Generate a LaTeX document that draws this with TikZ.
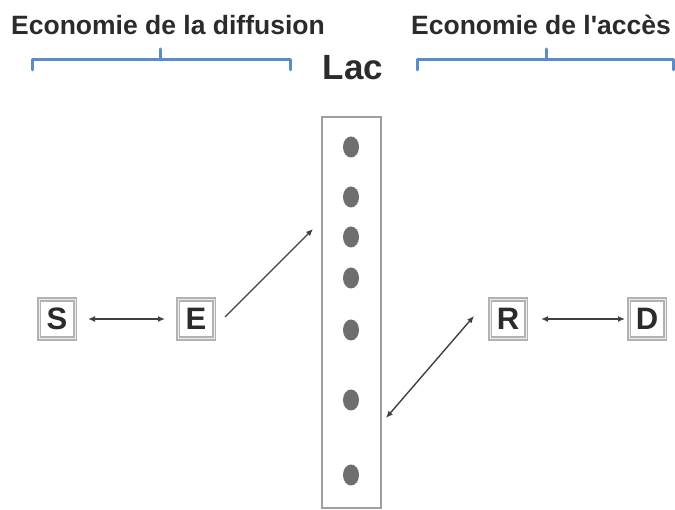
\documentclass[tikz,border=0pt]{standalone}
\usepackage{fontspec}
\setmainfont{Liberation Sans}
\usetikzlibrary{arrows.meta}
\definecolor{txt}{HTML}{2B2B2B}
\definecolor{brace}{HTML}{5B8BC9}
\definecolor{dotc}{HTML}{6E6E6E}
\begin{document}
\begin{tikzpicture}[x=1pt,y=-1pt,
  title/.style={font=\fontsize{26.5}{28}\selectfont\bfseries, text=txt, inner sep=0pt},
  letter/.style={draw=gray!60, line width=2pt, double=gray!15, double distance=0.8pt, fill=white, minimum width=36pt, minimum height=39pt, inner sep=0pt, font=\fontsize{31}{34}\selectfont\bfseries, text=txt},
  bracestyle/.style={draw=brace, line width=3pt, line cap=round, line join=round},
  conn/.style={draw=black!75, line width=1.4pt},
  tip/.style={-{Latex[length=7pt,width=6pt]}},
  tips/.style={{Latex[length=7pt,width=6pt]}-{Latex[length=7pt,width=6pt]}}]
\useasboundingbox (0,0) rectangle (675,510);
% titles
\node[title] (t1) at (168,25) {Economie de la diffusion};
\node[title] (t2) at (541,25) {Economie de l\textquotesingle accès};
\node[title, font=\fontsize{35}{38}\selectfont\bfseries] (lac) at (353,68) {Lac};
% braces
\draw[bracestyle] (32,70) -- (32,60) -- (290,60) -- (290,70);
\draw[bracestyle] (160,60) -- (160,49);
\draw[bracestyle] (417,70) -- (417,60) -- (673,60) -- (673,70);
\draw[bracestyle] (546,60) -- (546,49);
% lake
\node[draw=gray!75, line width=2pt, minimum width=59pt, minimum height=391pt, inner sep=0pt] (box) at (351,312.5) {};
\foreach \yy in {147,197,237,278,330,400,475}
  \fill[dotc] (351,\yy) ellipse (8pt and 10.5pt);
% nodes
\node[letter] (S) at (57,319) {S};
\node[letter] (E) at (196,319) {E};
\node[letter] (R) at (508,319) {R};
\node[letter] (D) at (647,319) {D};
\coordinate (lacin) at (313,229);
\coordinate (lacout) at (386,418);
% connectors
\draw[conn, tips] ([xshift=12pt]S.east) -- ([xshift=-12pt]E.west);
\draw[conn, tips] ([xshift=14pt]R.east) -- ([xshift=-3pt]D.west);
\draw[conn, tip] ([xshift=10pt,yshift=2pt]E.east) -- (lacin);
\draw[conn, tips] (lacout) -- ([xshift=-15pt,yshift=3pt]R.west);
\end{tikzpicture}
\end{document}
